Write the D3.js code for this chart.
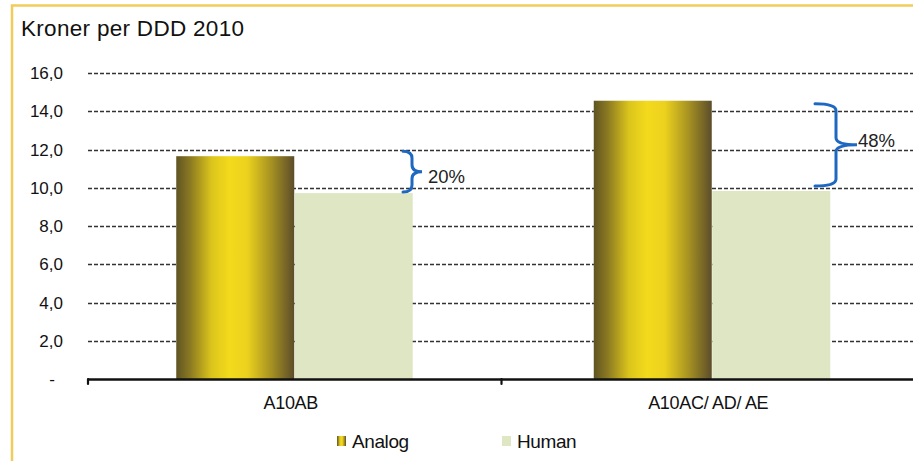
<!DOCTYPE html>
<html>
<head>
<meta charset="utf-8">
<script src="https://cdn.jsdelivr.net/npm/d3@7"></script>
<style>
  html, body { margin: 0; padding: 0; background: #fff; }
  svg { display: block; font-family: "Liberation Sans", Arial, sans-serif; }
</style>
</head>
<body>
<svg id="chart" width="913" height="461"></svg>
<script>
// Cost per defined daily dose, 2010
const categories = ["A10AB", "A10AC/ AD/ AE"];
const seriesNames = ["Analog", "Human"];
const analogValues = [11.65, 14.55];
const humanValues = [9.72, 9.83];
const differenceLabels = ["20%", "48%"];
const yTicks = [0, 2, 4, 6, 8, 10, 12, 14, 16];
const yTickLabels = ["-", "2,0", "4,0", "6,0", "8,0", "10,0", "12,0", "14,0", "16,0"];

const svg = d3.select("#chart");
const W = 913, H = 461;
const plot = { left: 88, right: 913, top: 73, bottom: 379 };

// frame
svg.append("path")
  .attr("d", `M12,${H} V5.5 H${W}`)
  .attr("fill", "none").attr("stroke", "#f2cc5a").attr("stroke-width", 2.5);

// gradient for the analog bars
const defs = svg.append("defs");
const grad = defs.append("linearGradient").attr("id", "gold").attr("x1", 0).attr("x2", 1).attr("y1", 0).attr("y2", 0);
[[0, "#5f5423"], [0.12, "#8c7a22"], [0.3, "#dcc51c"], [0.45, "#f3da1c"], [0.6, "#ecd21e"], [0.8, "#a89322"], [1, "#5c4d2a"]]
  .forEach(([o, c]) => grad.append("stop").attr("offset", o).attr("stop-color", c));

const x0 = d3.scaleBand().domain(categories).range([86, 921]).paddingInner(0).paddingOuter(0);
const groupWidth = 237;
const x1 = d3.scaleBand().domain(seriesNames).range([0, groupWidth]).padding(0);
const y = d3.scaleLinear().domain([0, 16]).range([plot.bottom, plot.top]);

// dashed gridlines
svg.append("g").selectAll("line").data(yTicks.filter(d => d > 0)).join("line")
  .attr("x1", plot.left).attr("x2", plot.right)
  .attr("y1", d => Math.round(y(d)) + 0.5).attr("y2", d => Math.round(y(d)) + 0.5)
  .attr("stroke", "#333").attr("stroke-width", 1.6).attr("stroke-dasharray", "4,2");

// y tick labels
svg.append("g").selectAll("text").data(yTicks).join("text")
  .attr("x", (d, i) => i === 0 ? 55 : 63)
  .attr("y", d => y(d) + 6)
  .attr("text-anchor", "end")
  .attr("font-size", 17).attr("fill", "#111")
  .text((d, i) => yTickLabels[i]);

// bars
const groups = svg.append("g").selectAll("g").data(categories).join("g")
  .attr("transform", c => `translate(${x0(c) + (x0.bandwidth() - groupWidth) / 2},0)`);
groups.selectAll("rect").data((c, i) => [
  { s: "Analog", v: analogValues[i] },
  { s: "Human", v: humanValues[i] }
]).join("rect")
  .attr("x", d => x1(d.s))
  .attr("width", x1.bandwidth() - 0.5)
  .attr("y", d => y(d.v))
  .attr("height", d => y(0) - y(d.v))
  .attr("fill", d => d.s === "Analog" ? "url(#gold)" : "#dfe6c4");

// x axis line and ticks
svg.append("line").attr("x1", plot.left).attr("x2", W).attr("y1", plot.bottom + 0.5).attr("y2", plot.bottom + 0.5)
  .attr("stroke", "#111").attr("stroke-width", 2.4);
svg.append("g").selectAll("line").data([plot.left, x0(categories[1]) - 2]).join("line")
  .attr("x1", d => d).attr("x2", d => d)
  .attr("y1", plot.bottom).attr("y2", plot.bottom + 5)
  .attr("stroke", "#111").attr("stroke-width", 2.2).attr("stroke-linecap", "round");

// category labels
svg.append("g").selectAll("text").data(categories).join("text")
  .attr("x", c => x0(c) + x0.bandwidth() / 2 - 4)
  .attr("y", 409)
  .attr("text-anchor", "middle").attr("font-size", 18).attr("fill", "#111")
  .attr("letter-spacing", -0.3)
  .text(c => c);

// title
svg.append("text").attr("x", 21).attr("y", 36)
  .attr("font-size", 22.5).attr("fill", "#111").attr("letter-spacing", 0.3)
  .text("Kroner per DDD 2010");

// braces showing the analog premium over human insulin
function bracePath(xl, xr, xtip, yTop, yBot) {
  const ym = (yTop + yBot) / 2;
  const r = 7;
  return `M${xl},${yTop} Q${xr},${yTop} ${xr},${yTop + r} ` +
    `V${ym - r} Q${xr},${ym} ${xtip},${ym} ` +
    `Q${xr},${ym} ${xr},${ym + r} ` +
    `V${yBot - r} Q${xr},${yBot} ${xl},${yBot}`;
}
const braceSpecs = [
  { xl: 403, xr: 412, xtip: 422, top: -5, bot: -1, tx: 428, ty: 183 },
  { xl: 815, xr: 836, xtip: 857, top: 3, bot: -5, tx: 858, ty: 147 }
];
categories.forEach((c, i) => {
  const b = braceSpecs[i];
  const yTop = y(analogValues[i]) + b.top;
  const yBot = y(humanValues[i]) + b.bot;
  svg.append("path").attr("d", bracePath(b.xl, b.xr, b.xtip, yTop, yBot))
    .attr("fill", "none").attr("stroke", "#1f68c2").attr("stroke-width", 3).attr("stroke-linecap", "round");
  svg.append("text").attr("x", b.tx).attr("y", b.ty)
    .attr("font-size", 18.5).attr("fill", "#222").text(differenceLabels[i]);
});

// legend
const legendItems = [
  { name: "Analog", x: 337, fill: "url(#gold)" },
  { name: "Human", x: 502, fill: "#dfe6c4" }
];
const lg = svg.append("g").selectAll("g").data(legendItems).join("g")
  .attr("transform", d => `translate(${d.x},436)`);
lg.append("rect").attr("width", 9).attr("height", 10).attr("fill", d => d.fill);
lg.append("text").attr("x", 15).attr("y", 12).attr("font-size", 19).attr("fill", "#111")
  .attr("letter-spacing", -0.4).text(d => d.name);
</script>
</body>
</html>
